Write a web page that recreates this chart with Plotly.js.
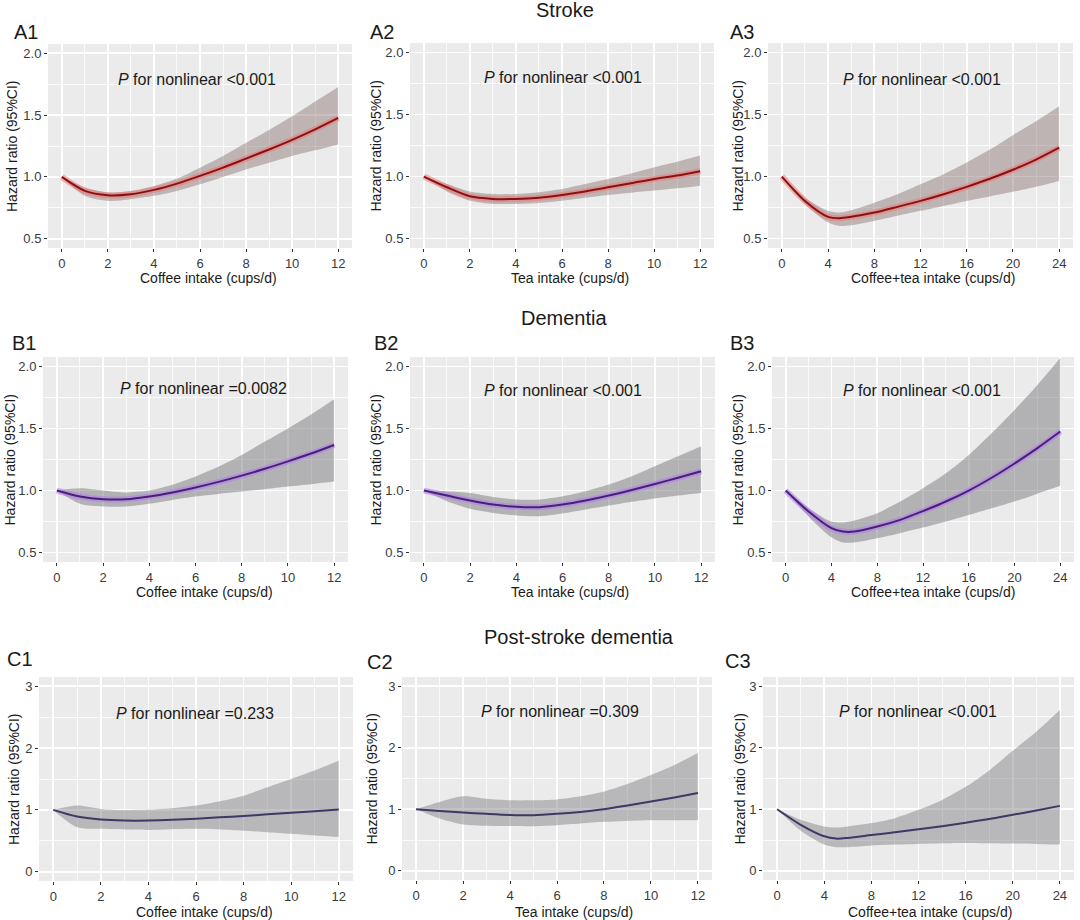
<!DOCTYPE html>
<html><head><meta charset="utf-8">
<script src="https://cdn.plot.ly/plotly-3.0.1.min.js"></script>
<style>html,body{margin:0;padding:0;background:#fff}#chart{width:1080px;height:920px}</style>
</head><body><div id="chart"></div>
<script>
// ---------- data ----------
const sectionTitles = ["Stroke", "Dementia", "Post-stroke dementia"];
const panelLabels = ["A1","A2","A3","B1","B2","B3","C1","C2","C3"];
const xTitles = ["Coffee intake (cups/d)", "Tea intake (cups/d)", "Coffee+tea intake (cups/d)"];
const yTitle = "Hazard ratio (95%CI)";
const pTexts = ["<0.001","<0.001","<0.001","=0.0082","<0.001","<0.001","=0.233","=0.309","<0.001"];

const xCups12 = [0,1,2,3,4,5,6,7,8,9,10,11,12];
const xCups24 = [0,2,4,5,6,8,10,12,14,16,18,20,22,24];
const ticks12 = [0,2,4,6,8,10,12];
const ticks24 = [0,4,8,12,16,20,24];
const ticksHR_AB = [0.5,1.0,1.5,2.0];
const ticksHR_C = [0,1,2,3];

// A1 stroke - coffee
const strokeCoffeeHR = [1.0,0.887,0.852,0.86,0.895,0.946,1.008,1.075,1.148,1.222,1.30,1.385,1.478];
const strokeCoffeeHi = [1.0,0.914,0.874,0.887,0.927,0.987,1.075,1.17,1.277,1.38,1.49,1.61,1.728];
const strokeCoffeeLo = [1.0,0.847,0.806,0.82,0.847,0.887,0.94,1.0,1.06,1.115,1.17,1.215,1.263];
// A2 stroke - tea
const strokeTeaHR = [1.0,0.914,0.841,0.82,0.82,0.83,0.852,0.88,0.914,0.946,0.98,1.008,1.043];
const strokeTeaHi = [1.0,0.94,0.88,0.86,0.86,0.874,0.9,0.94,0.98,1.025,1.075,1.12,1.17];
const strokeTeaLo = [1.0,0.88,0.806,0.78,0.78,0.788,0.806,0.83,0.852,0.87,0.887,0.905,0.927];
// A3 stroke - coffee+tea
const strokeMixHR = [1.0,0.804,0.676,0.665,0.676,0.71,0.756,0.804,0.858,0.917,0.982,1.055,1.137,1.233];
const strokeMixHi = [1.0,0.83,0.724,0.71,0.729,0.79,0.858,0.938,1.019,1.113,1.217,1.333,1.445,1.566];
const strokeMixLo = [1.0,0.777,0.63,0.603,0.609,0.643,0.684,0.724,0.764,0.804,0.84,0.877,0.918,0.965];
// B1 dementia - coffee
const demCoffeeHR = [1.0,0.952,0.93,0.93,0.952,0.985,1.025,1.07,1.12,1.175,1.235,1.298,1.367];
const demCoffeeHi = [1.0,1.019,1.0,0.984,1.0,1.046,1.113,1.193,1.287,1.394,1.5,1.612,1.735];
const demCoffeeLo = [1.0,0.893,0.871,0.871,0.893,0.925,0.952,0.973,0.992,1.011,1.032,1.051,1.072];
// B2 dementia - tea
const demTeaHR = [1.0,0.96,0.92,0.887,0.869,0.866,0.887,0.92,0.96,1.005,1.053,1.103,1.155];
const demTeaHi = [1.0,0.995,0.98,0.949,0.928,0.928,0.954,0.995,1.048,1.115,1.196,1.276,1.357];
const demTeaLo = [1.0,0.914,0.853,0.82,0.799,0.794,0.815,0.847,0.879,0.91,0.937,0.96,0.981];
// B3 dementia - coffee+tea
const demMixHR = [1.0,0.831,0.697,0.67,0.67,0.71,0.764,0.835,0.912,1.0,1.103,1.218,1.342,1.475];
const demMixHi = [1.0,0.858,0.75,0.743,0.759,0.818,0.912,1.019,1.139,1.287,1.461,1.649,1.85,2.067];
const demMixLo = [1.0,0.79,0.624,0.582,0.582,0.616,0.657,0.702,0.751,0.804,0.858,0.912,0.975,1.038];
// C1 post-stroke dementia - coffee
const psdCoffeeHR = [1.0,0.892,0.844,0.828,0.828,0.839,0.858,0.88,0.903,0.928,0.953,0.978,1.005];
const psdCoffeeHi = [1.0,1.07,1.016,1.0,1.005,1.027,1.07,1.14,1.231,1.366,1.5,1.64,1.796];
const psdCoffeeLo = [1.0,0.72,0.694,0.683,0.677,0.688,0.694,0.683,0.664,0.64,0.613,0.586,0.56];
// C2 post-stroke dementia - tea
const psdTeaHR = [1.0,0.973,0.946,0.925,0.908,0.903,0.925,0.957,1.0,1.06,1.125,1.192,1.264];
const psdTeaHi = [1.0,1.118,1.21,1.17,1.145,1.145,1.16,1.21,1.29,1.41,1.555,1.72,1.915];
const psdTeaLo = [1.0,0.849,0.752,0.731,0.726,0.725,0.742,0.768,0.795,0.811,0.82,0.822,0.822];
// C3 post-stroke dementia - coffee+tea
const psdMixHR = [1.0,0.748,0.561,0.523,0.534,0.58,0.625,0.675,0.725,0.78,0.84,0.91,0.98,1.055];
const psdMixHi = [1.0,0.829,0.721,0.705,0.721,0.775,0.855,0.99,1.15,1.364,1.632,1.953,2.26,2.612];
const psdMixLo = [1.0,0.652,0.427,0.384,0.384,0.411,0.427,0.437,0.448,0.453,0.448,0.443,0.437,0.427];

// ---------- styling / layout ----------
const W = 1080, H = 920;
const fx = p => p / W, fy = p => 1 - p / H;
const FONT = "Liberation Sans, Arial, sans-serif";

const themes = {
  red:    {line:'#8a1111', halo:'rgba(236,120,120,0.55)', band:'rgba(128,104,104,0.42)'},
  purple: {line:'#4a1f78', halo:'rgba(178,128,236,0.6)', band:'rgba(112,112,118,0.46)'},
  navy:   {line:'#3b3966', halo:null, band:'rgba(118,118,124,0.44)'}
};

const panels = [
  {box:[48,352,44,248],  x:xCups12, hr:strokeCoffeeHR, hi:strokeCoffeeHi, lo:strokeCoffeeLo, th:'red', xr:12, ticks:ticks12, minor:1, row:0, col:0, pPos:[197,80], yt:12, xt:208},
  {box:[410,714,43,248], x:xCups12, hr:strokeTeaHR, hi:strokeTeaHi, lo:strokeTeaLo, th:'red', xr:12, ticks:ticks12, minor:1, row:0, col:1, pPos:[563,78], yt:375, xt:570},
  {box:[768,1073,43,248],x:xCups24, hr:strokeMixHR, hi:strokeMixHi, lo:strokeMixLo, th:'red', xr:24, ticks:ticks24, minor:2, row:0, col:2, pPos:[922,79], yt:737, xt:933},
  {box:[43,348,357,562], x:xCups12, hr:demCoffeeHR, hi:demCoffeeHi, lo:demCoffeeLo, th:'purple', xr:12, ticks:ticks12, minor:1, row:1, col:0, pPos:[203,389], yt:9, xt:204},
  {box:[410,715,357,562],x:xCups12, hr:demTeaHR, hi:demTeaHi, lo:demTeaLo, th:'purple', xr:12, ticks:ticks12, minor:1, row:1, col:1, pPos:[563,390], yt:375, xt:570},
  {box:[772,1074,357,562],x:xCups24, hr:demMixHR, hi:demMixHi, lo:demMixLo, th:'purple', xr:24, ticks:ticks24, minor:2, row:1, col:2, pPos:[922,390], yt:737, xt:933},
  {box:[39,353,677,881], x:xCups12, hr:psdCoffeeHR, hi:psdCoffeeHi, lo:psdCoffeeLo, th:'navy', xr:12, ticks:ticks12, minor:1, row:2, col:0, pPos:[195,713], yt:14, xt:204},
  {box:[402,712,677,880],x:xCups12, hr:psdTeaHR, hi:psdTeaHi, lo:psdTeaLo, th:'navy', xr:12, ticks:ticks12, minor:1, row:2, col:1, pPos:[560,711], yt:371, xt:574},
  {box:[763,1074,677,880],x:xCups24, hr:psdMixHR, hi:psdMixHi, lo:psdMixLo, th:'navy', xr:24, ticks:ticks24, minor:2, row:2, col:2, pPos:[918,711], yt:739, xt:930}
];

const labelPos = [[26,32],[382,32],[742,32],[24,343],[386,343],[742,343],[20,659],[380,662],[738,661]];
const sectionPos = [[565,10],[564,318],[579,637]];
const xTitleY = [278, 592, 912];

const traces = [];
const layout = {
  width: W, height: H,
  margin: {l:0, r:0, t:0, b:0},
  paper_bgcolor: '#ffffff',
  plot_bgcolor: '#ebebeb',
  showlegend: false,
  font: {family: FONT, color: '#1a1a1a'},
  annotations: []
};

panels.forEach((p, i) => {
  const n = i === 0 ? '' : String(i + 1);
  const xa = 'x' + n, ya = 'y' + n;
  const t = themes[p.th];
  traces.push({x:p.x, y:p.lo, xaxis:xa, yaxis:ya, type:'scatter', mode:'lines',
    line:{width:0, shape:'spline', smoothing:0.8}, hoverinfo:'skip'});
  traces.push({x:p.x, y:p.hi, xaxis:xa, yaxis:ya, type:'scatter', mode:'lines', fill:'tonexty',
    fillcolor:t.band, line:{width:0, shape:'spline', smoothing:0.8}, hoverinfo:'skip'});
  if (t.halo) {
    traces.push({x:p.x, y:p.hr, xaxis:xa, yaxis:ya, type:'scatter', mode:'lines',
      line:{width:6, color:t.halo, shape:'spline', smoothing:0.8}, hoverinfo:'skip'});
  }
  traces.push({x:p.x, y:p.hr, xaxis:xa, yaxis:ya, type:'scatter', mode:'lines',
    line:{width:2, color:t.line, shape:'spline', smoothing:0.8}});

  const isC = p.row === 2;
  const ex = p.xr * 0.05;
  layout['xaxis' + n] = {
    domain:[fx(p.box[0]), fx(p.box[1])], anchor: ya,
    range:[-ex, p.xr + ex], tickvals:p.ticks, ticktext:p.ticks.map(String),
    ticks:'outside', ticklen:3, tickwidth:1, tickcolor:'#333333',
    tickfont:{size:13, color:'#3a3a3a', family:FONT},
    showgrid:true, gridcolor:'#ffffff', gridwidth:1.6,
    minor:{dtick:p.minor, tick0:0, showgrid:true, gridcolor:'#ffffff', gridwidth:0.8},
    zeroline:false, showline:false, fixedrange:true
  };
  const yt = isC ? ticksHR_C : ticksHR_AB;
  layout['yaxis' + n] = {
    domain:[fy(p.box[3]), fy(p.box[2])], anchor: xa,
    range: isC ? [-0.15, 3.15] : [0.425, 2.075],
    tickvals: yt, ticktext: yt.map(v => isC ? String(v) : v.toFixed(1)),
    ticks:'outside', ticklen:3, tickwidth:1, tickcolor:'#333333',
    tickfont:{size:13, color:'#3a3a3a', family:FONT},
    showgrid:true, gridcolor:'#ffffff', gridwidth:1.6,
    minor:{dtick: isC ? 0.5 : 0.25, tick0:0, showgrid:true, gridcolor:'#ffffff', gridwidth:0.8},
    zeroline:false, showline:false, fixedrange:true
  };

  // P for nonlinear
  layout.annotations.push({xref:'paper', yref:'paper', x:fx(p.pPos[0]), y:fy(p.pPos[1]),
    xanchor:'center', yanchor:'middle', showarrow:false,
    text:'<i>P</i> for nonlinear ' + pTexts[i], font:{size:16, family:FONT, color:'#1a1a1a'}});
  // panel label
  layout.annotations.push({xref:'paper', yref:'paper', x:fx(labelPos[i][0]), y:fy(labelPos[i][1]),
    xanchor:'center', yanchor:'middle', showarrow:false,
    text:panelLabels[i], font:{size:20, family:FONT, color:'#1a1a1a'}});
  // y title
  layout.annotations.push({xref:'paper', yref:'paper', x:fx(p.yt), y:fy((p.box[2]+p.box[3])/2),
    xanchor:'center', yanchor:'middle', showarrow:false, textangle:-90,
    text:yTitle, font:{size:14, family:FONT, color:'#1a1a1a'}});
  // x title
  layout.annotations.push({xref:'paper', yref:'paper', x:fx(p.xt), y:fy(xTitleY[p.row]),
    xanchor:'center', yanchor:'middle', showarrow:false,
    text:xTitles[p.col], font:{size:14, family:FONT, color:'#1a1a1a'}});
});

sectionTitles.forEach((s, i) => {
  layout.annotations.push({xref:'paper', yref:'paper', x:fx(sectionPos[i][0]), y:fy(sectionPos[i][1]),
    xanchor:'center', yanchor:'middle', showarrow:false,
    text:s, font:{size:20, family:FONT, color:'#1a1a1a'}});
});

Plotly.newPlot('chart', traces, layout, {staticPlot:true, displayModeBar:false});
</script>
</body></html>
